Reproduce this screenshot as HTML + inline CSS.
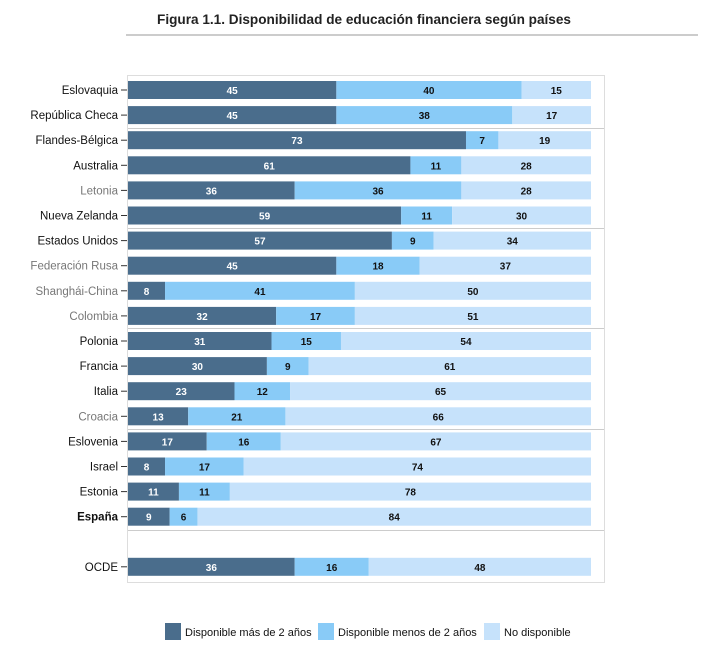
<!DOCTYPE html>
<html><head><meta charset="utf-8"><style>
body{margin:0;background:#fff;width:720px;height:650px;overflow:hidden;font-family:"Liberation Sans",sans-serif;}
</style></head><body>
<svg id="c" width="720" height="650" xmlns="http://www.w3.org/2000/svg">
<text x="364" y="24" text-anchor="middle" font-size="13.6" font-weight="bold" fill="#222">Figura 1.1. Disponibilidad de educación financiera según países</text>
<line x1="126" y1="35" x2="698" y2="35" stroke="#999"/>
<rect x="127.5" y="75.5" width="477" height="507" fill="none" stroke="#ddd"/>
<g id="bars"></g>
<g id="legend"></g>
</svg>
<script>
const categories=["Eslovaquia","República Checa","Flandes-Bélgica","Australia","Letonia","Nueva Zelanda","Estados Unidos","Federación Rusa","Shanghái-China","Colombia","Polonia","Francia","Italia","Croacia","Eslovenia","Israel","Estonia","España","OCDE"];
const masDe2=[45,45,73,61,36,59,57,45,8,32,31,30,23,13,17,8,11,9,36];
const menosDe2=[40,38,7,11,36,11,9,18,41,17,15,9,12,21,16,17,11,6,16];
const noDisp=[15,17,19,28,28,30,34,37,50,51,54,61,65,66,67,74,78,84,48];
const greyLabels=["Letonia","Federación Rusa","Shanghái-China","Colombia","Croacia"];
const seriesNames=["Disponible más de 2 años","Disponible menos de 2 años","No disponible"];
const colors=["#4a6d8c","#89cbf7","#c6e2fb"];
const textCols=["#fff","#111","#111"];
const ns="http://www.w3.org/2000/svg";
const x0=128, scale=4.63;
const xs=v=>x0+v*scale;
const yc=i=>90+(i<18?i*25.1:18*25.1+25);
const g=document.getElementById('bars');
function mk(t,a){const e=document.createElementNS(ns,t);for(const k in a)e.setAttribute(k,a[k]);return e;}
[128,228,328,429,530].forEach(y=>{
 const l=mk('line',{x1:128,x2:604,y1:y+0.5,y2:y+0.5,stroke:'#ccc'});
 
 
 g.appendChild(l);
});
categories.forEach((c,i)=>{
 const y=yc(i);
 const vals=[masDe2[i],menosDe2[i],noDisp[i]];
 let cum=0;
 vals.forEach((v,s)=>{
  const w=(s===2?Math.max(v,100-cum):v);
  const r=mk('rect',{x:xs(cum),y:y-9,width:xs(cum+w)-xs(cum),height:18,fill:colors[s]});
  
  
  g.appendChild(r);
  const t=mk('text',{x:xs(cum+w/2),y:y+4,'text-anchor':'middle','font-size':10,'font-weight':'bold',fill:textCols[s]});
  t.textContent=v;
  
  
  g.appendChild(t);
  cum+=v;
 });
 const tk=mk('line',{x1:121,x2:127,y1:y,y2:y,stroke:'#333'});
 
 
 g.appendChild(tk);
 const lb=mk('text',{x:118,y:y+4,'text-anchor':'end','font-size':11.5,fill:greyLabels.includes(c)?'#777':'#111','font-weight':c==='España'?'bold':'normal'});
 lb.textContent=c;
 
 
 g.appendChild(lb);
});
const lg=document.getElementById('legend');
const lx=[165,318,484];
seriesNames.forEach((n,s)=>{
 const r=mk('rect',{x:lx[s],y:623,width:16,height:17,fill:colors[s]});
 
 
 lg.appendChild(r);
 const t=mk('text',{x:lx[s]+20,y:636,'font-size':11,fill:'#111'});
 t.textContent=n;
 
 
 lg.appendChild(t);
});
</script>
</body></html>
